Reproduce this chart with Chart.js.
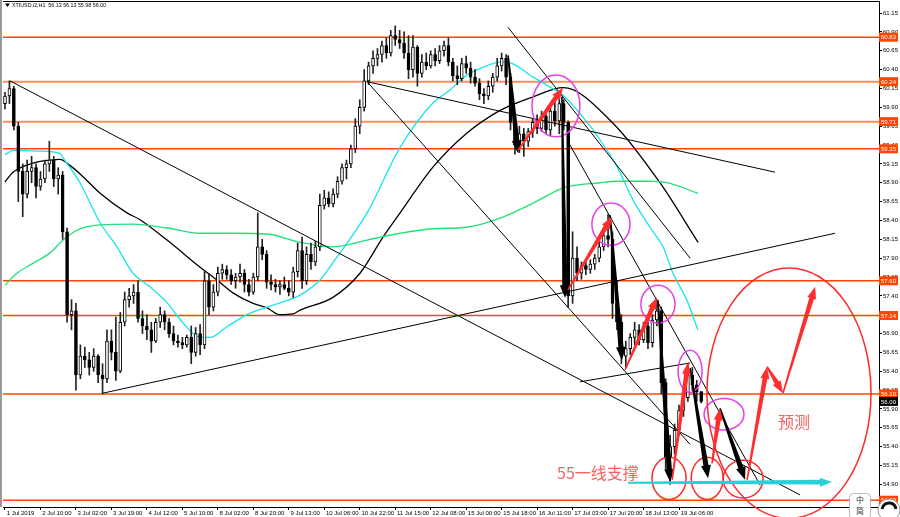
<!DOCTYPE html>
<html><head><meta charset="utf-8">
<script src="https://cdn.jsdelivr.net/npm/chart.js@4.4.1/dist/chart.umd.min.js"></script>
<style>html,body{margin:0;padding:0;background:#fff;overflow:hidden}canvas{display:block}</style>
</head><body>
<canvas id="c" width="900" height="517"></canvas>
<script>
// ---------- data ----------
const headerText = 'XTIUSD.i2,H1  56.13 56.13 55.98 56.00';
const dateLabels = ['1 Jul 2019','2 Jul 10:00','3 Jul 02:00','3 Jul 19:00','4 Jul 12:00','5 Jul 10:00','8 Jul 02:00','8 Jul 20:00','9 Jul 13:00','10 Jul 06:00','10 Jul 22:00','11 Jul 15:00','12 Jul 08:00','15 Jul 00:00','15 Jul 18:00','16 Jul 11:00','17 Jul 03:00','17 Jul 20:00','18 Jul 13:00','19 Jul 06:00'];
const hoursPerLabel = 16;
const hoursPerCandle = 2;
const priceTicks = [61.15,60.90,60.65,60.40,60.15,59.90,59.65,59.40,59.15,58.90,58.65,58.40,58.15,57.90,57.65,57.40,57.15,56.90,56.65,56.40,56.15,55.90,55.65,55.40,55.15,54.90];

const open = [
59.95,60.05,60.15,59.65,59.05,58.75,59.05,59.10,58.85,58.95,
59.15,59.20,58.95,59.00,58.25,57.15,57.20,56.35,56.60,56.55,
56.45,56.60,56.35,56.30,56.80,56.65,56.40,57.05,57.35,57.40,
57.45,57.10,57.00,56.95,56.80,57.05,57.15,57.05,56.90,56.80,
56.78,56.75,56.85,56.65,56.90,56.75,57.60,57.25,57.45,57.70,
57.75,57.68,57.60,57.65,57.70,57.55,57.45,57.65,58.05,57.95,
57.58,57.55,57.52,57.55,57.50,57.45,57.72,58.00,57.60,57.95,
57.85,58.05,58.60,58.70,58.62,58.75,58.92,59.10,59.15,59.35,
59.65,59.90,60.25,60.45,60.55,60.60,60.72,60.62,60.85,60.80,
60.75,60.62,60.40,60.70,60.35,60.50,60.45,60.60,60.52,60.65,
60.72,60.50,60.32,60.28,60.48,60.42,60.30,60.22,60.08,60.05,
60.18,60.30,60.45,60.55,60.30,59.70,59.40,59.55,59.45,59.58,
59.70,59.62,59.78,59.60,59.85,59.72,59.95,59.70,57.40,57.90,
57.70,57.80,57.75,57.82,57.90,58.05,58.20,58.15,57.30,57.05,
56.60,56.70,56.85,56.95,56.82,57.00,56.78,57.08,57.20,56.25,
55.25,55.40,55.62,55.88,56.05,56.35,56.22,56.13];
const high = [
60.10,60.25,60.18,59.70,59.15,59.20,59.25,59.15,59.05,59.20,
59.45,59.25,59.10,59.05,58.30,57.35,57.30,56.75,56.72,56.65,
56.70,56.62,56.50,56.95,56.95,57.12,57.18,57.45,57.50,57.55,
57.60,57.20,57.15,57.05,57.10,57.25,57.20,57.10,57.00,56.88,
56.85,56.88,57.00,56.98,57.02,57.72,57.70,57.55,57.78,57.82,
57.80,57.75,57.70,57.82,57.75,57.62,57.70,58.50,58.15,58.00,
57.68,57.62,57.60,57.65,57.60,57.78,58.10,58.18,58.05,58.10,
58.12,58.75,58.80,58.78,58.82,58.98,59.15,59.20,59.40,59.75,
60.00,60.40,60.50,60.65,60.68,60.78,60.82,60.92,60.98,60.92,
60.90,60.85,60.85,60.72,60.60,60.62,60.65,60.68,60.72,60.78,
60.82,60.55,60.45,60.55,60.58,60.50,60.40,60.28,60.15,60.25,
60.35,60.55,60.62,60.60,60.35,59.75,59.65,59.62,59.62,59.75,
59.80,59.85,59.82,59.95,60.05,60.10,60.00,59.72,58.25,58.05,
57.85,57.85,57.88,57.95,58.12,58.30,58.48,58.25,57.60,57.15,
56.80,56.90,57.05,57.02,57.05,57.05,57.15,57.35,57.25,56.30,
55.55,55.70,55.95,56.12,56.50,56.45,56.28,56.13];
const low = [
59.88,59.95,59.60,58.65,58.45,58.70,58.90,58.70,58.80,58.90,
59.05,58.85,58.75,58.15,57.05,56.95,56.15,56.30,56.45,56.35,
56.40,56.25,56.10,56.25,56.55,56.28,56.38,57.00,57.25,57.30,
57.05,56.90,56.82,56.65,56.78,56.98,56.95,56.85,56.75,56.72,
56.70,56.72,56.50,56.60,56.62,56.70,57.15,57.20,57.40,57.62,
57.62,57.55,57.50,57.58,57.45,57.40,57.42,57.60,57.88,57.50,
57.48,57.45,57.42,57.48,57.40,57.38,57.65,57.50,57.55,57.75,
57.80,58.00,58.55,58.58,58.58,58.70,58.88,58.95,59.10,59.30,
59.55,59.85,60.20,60.35,60.45,60.50,60.55,60.58,60.72,60.68,
60.55,60.28,60.30,60.18,60.30,60.40,60.42,60.45,60.48,60.58,
60.45,60.25,60.20,60.25,60.35,60.22,60.18,60.00,59.95,60.00,
60.10,60.25,60.38,60.20,59.60,59.28,59.30,59.25,59.38,59.50,
59.55,59.58,59.55,59.52,59.65,59.55,59.60,57.25,57.30,57.60,
57.62,57.68,57.70,57.75,57.85,58.00,58.05,57.10,56.95,56.50,
56.45,56.62,56.75,56.75,56.78,56.70,56.72,57.00,56.10,55.10,
54.90,55.30,55.55,55.80,56.00,56.15,56.00,55.98];
const close = [
60.05,60.15,59.65,59.05,58.75,59.05,59.10,58.85,58.95,59.15,
59.20,58.95,59.00,58.25,57.15,57.20,56.35,56.60,56.55,56.45,
56.60,56.35,56.30,56.80,56.65,56.40,57.05,57.35,57.40,57.45,
57.10,57.00,56.95,56.80,57.05,57.15,57.05,56.90,56.80,56.78,
56.75,56.85,56.65,56.90,56.75,57.60,57.25,57.45,57.70,57.75,
57.68,57.60,57.65,57.70,57.55,57.45,57.65,58.05,57.95,57.58,
57.55,57.52,57.55,57.50,57.45,57.72,58.00,57.60,57.95,57.85,
58.05,58.60,58.70,58.62,58.75,58.92,59.10,59.15,59.35,59.65,
59.90,60.25,60.45,60.55,60.60,60.72,60.62,60.85,60.80,60.75,
60.62,60.40,60.70,60.35,60.50,60.45,60.60,60.52,60.65,60.72,
60.50,60.32,60.28,60.48,60.42,60.30,60.22,60.08,60.05,60.18,
60.30,60.45,60.55,60.30,59.70,59.40,59.55,59.45,59.58,59.70,
59.62,59.78,59.60,59.85,59.72,59.95,59.70,57.40,57.90,57.70,
57.80,57.75,57.82,57.90,58.05,58.20,58.15,57.30,57.05,56.60,
56.70,56.85,56.95,56.82,57.00,56.78,57.08,57.20,56.25,55.25,
55.40,55.62,55.88,56.05,56.35,56.22,56.13,56.00];

// moving averages: [hour index, price]
const maCyan = [[0,59.27],[3.6,59.33],[15.8,59.32],[24.8,59.29],[26.2,59.23],[33.8,58.90],[42.9,58.37],[50.5,58.05],[57.7,57.70],[65.4,57.52],[73.1,57.31],[80.3,57.04],[88.0,56.85],[92.5,56.85],[100.1,56.99],[110.5,57.17],[118.2,57.25],[125.4,57.32],[133.1,57.41],[142.1,57.61],[147.9,57.84],[163.3,58.50],[178.2,59.37],[193.1,59.96],[200.7,60.13],[208.4,60.33],[215.6,60.43],[223.3,60.50],[227.8,60.49],[238.2,60.30],[245.8,60.17],[251.7,60.06],[260.7,59.77],[268.4,59.47],[276.1,59.11],[283.3,58.67],[290.9,58.31],[296.8,58.05],[301.3,57.70],[307.6,57.34],[312.5,56.95]];
const maBlack = [[0,58.91],[3.6,59.04],[12.6,59.16],[20.3,59.20],[24.8,59.21],[29.3,59.13],[35.2,58.98],[42.9,58.76],[55.0,58.50],[60.9,58.41],[73.1,58.14],[88.0,57.78],[95.6,57.61],[102.8,57.44],[111.9,57.30],[118.2,57.24],[124.0,57.15],[129.9,57.16],[133.1,57.21],[147.9,57.38],[160.1,57.70],[170.5,58.18],[178.2,58.50],[193.1,59.11],[208.4,59.56],[223.3,59.86],[230.9,59.96],[238.2,60.04],[251.7,60.16],[274.2,59.69],[295.4,58.90],[312.6,58.11]];
const maGreen = [[0,57.54],[5.4,57.70],[12.6,57.83],[20.3,57.97],[26.2,58.14],[32.5,58.27],[42.9,58.34],[57.7,58.35],[73.1,58.30],[88.0,58.23],[102.8,58.23],[118.2,58.22],[133.1,58.11],[147.9,58.05],[163.3,58.14],[178.2,58.23],[193.1,58.29],[208.4,58.31],[223.3,58.43],[238.2,58.63],[251.7,58.83],[268.4,58.90],[276.1,58.92],[290.9,58.92],[298.6,58.90],[312.6,58.76]];

const levels = [60.83,60.24,59.71,59.35,57.60,57.14,56.10,54.69];
const lastPrice = 56.00;

// trend lines: [hour1, price1, hour2, price2]
const trendLines = [[2.3,60.25,358.6,54.76],[44.2,56.11,374.4,58.23],[163.3,60.24,347.3,59.04],[163.3,60.24,309.0,55.43],[226.9,60.96,309.0,57.90],[253.5,59.47,340.6,54.89],[259.4,56.26,309.0,56.51]];
const blackArrows = [[226.9,60.59,231.4,59.29],[251.2,60.04,252.6,57.37],[272.9,58.47,278.3,56.55],[294.5,57.34,300.0,54.93],[309.0,56.44,317.1,54.98],[322.5,55.91,333.8,54.96]];
const redArrows = [[231.4,59.33,251.7,60.16],[253.9,57.48,273.8,58.45],[279.7,56.42,294.1,57.38],[300.9,54.96,308.1,56.52],[318.9,55.18,322.5,55.91],[334.7,54.96,343.7,56.46],[343.7,56.46,350.9,56.11],[350.9,56.11,365.4,57.52]];
const supportArrow = [281.0,54.92,373.0,54.93];
// rings: [centre hour, centre price, radius in hours, radius in price]
const magentaRings = [[248.5,59.92,10.8,0.41],[273.3,58.35,8.6,0.28],[294.5,57.29,7.7,0.25],[309.0,56.40,5.4,0.28],[324.3,55.83,9.0,0.21]];
const redRings = [[299.5,54.98,7.7,0.28],[316.7,54.98,7.2,0.28],[332.9,54.97,9.0,0.25],[353.6,56.11,37.0,1.66]];
const notes = [['55一线支撑',249.0,55.05],['预测',348.6,55.73]];

// ---------- chart ----------
const xMin = -0.9, xMax = 394.2, yMin = 54.60, yMax = 61.31;
const candleX = close.map((_, i) => i * hoursPerCandle);
const levelColors = ['#ff4500','#ff8a65','#ff8a65','#ff4500','#ff4500','#ff4500','#ff4500','#ff4500'];

const datasets = [];
levels.forEach((v, i) => datasets.push({type:'line', data:[{x:xMin,y:v},{x:xMax,y:v}], borderColor:levelColors[i], borderWidth:i===1||i===2?2:1.5, pointRadius:0, order:9}));
datasets.push({type:'line', data:maGreen.map(p=>({x:p[0],y:p[1]})), borderColor:'#22e07a', borderWidth:1.3, pointRadius:0, cubicInterpolationMode:'monotone', order:8});
datasets.push({type:'line', data:maCyan.map(p=>({x:p[0],y:p[1]})), borderColor:'#18e4ec', borderWidth:1.3, pointRadius:0, cubicInterpolationMode:'monotone', order:8});
datasets.push({type:'line', data:maBlack.map(p=>({x:p[0],y:p[1]})), borderColor:'#000', borderWidth:1.3, pointRadius:0, cubicInterpolationMode:'monotone', order:8});
datasets.push({type:'bar', data:close.map((c,i)=>({x:candleX[i], y:[low[i], high[i]]})), backgroundColor:'#222', barThickness:1, grouped:false, borderWidth:0, order:6});
datasets.push({type:'bar', data:close.map((c,i)=>({x:candleX[i], y:[Math.min(open[i],c), Math.max(open[i],c)]})), backgroundColor:close.map((c,i)=>c>=open[i]?'#fff':'#000'), borderColor:'#000', borderWidth:1, borderSkipped:false, barThickness:3, minBarLength:1, grouped:false, order:5});
trendLines.forEach(t => datasets.push({type:'line', data:[{x:t[0],y:t[1]},{x:t[2],y:t[3]}], borderColor:'#000', borderWidth:1, pointRadius:0, order:4}));

function arrow(ctx, x1, y1, x2, y2, color, w0, w1, hw, hl) {
  const dx = x2-x1, dy = y2-y1, L = Math.hypot(dx,dy);
  const ux = dx/L, uy = dy/L, nx = -uy, ny = ux;
  const h = Math.min(hl, L*0.5);
  const bx = x2-ux*h, by = y2-uy*h;
  ctx.beginPath();
  ctx.moveTo(x1+nx*w0, y1+ny*w0);
  ctx.lineTo(bx+nx*w1, by+ny*w1);
  ctx.lineTo(bx+nx*hw, by+ny*hw);
  ctx.lineTo(x2, y2);
  ctx.lineTo(bx-nx*hw, by-ny*hw);
  ctx.lineTo(bx-nx*w1, by-ny*w1);
  ctx.lineTo(x1-nx*w0, y1-ny*w0);
  ctx.closePath();
  ctx.fillStyle = color; ctx.fill();
}

const overlay = {
  id:'overlay',
  afterDatasetsDraw(chart) {
    const {ctx, scales:{x, y}} = chart;
    const X = k => x.getPixelForValue(k), Y = p => y.getPixelForValue(p);
    ctx.save();
    const ring = (r, col) => {
      const cx = X(r[0]), cy = Y(r[1]);
      const rx = X(r[0]+r[2]) - cx, ry = Y(r[1]-r[3]) - cy;
      ctx.beginPath(); ctx.ellipse(cx, cy, rx, ry, 0, 0, Math.PI*2);
      ctx.strokeStyle = col; ctx.lineWidth = 1.5; ctx.stroke();
    };
    magentaRings.forEach(r => ring(r, '#e83ee8'));
    redRings.forEach(r => ring(r, '#ff2b2b'));
    blackArrows.forEach(a => arrow(ctx, X(a[0]), Y(a[1]), X(a[2]), Y(a[3]), '#000', 0.8, 2.6, 5, 13));
    redArrows.forEach(a => arrow(ctx, X(a[0]), Y(a[1]), X(a[2]), Y(a[3]), '#ff2d2d', 0.8, 2.4, 4.5, 12));
    arrow(ctx, X(supportArrow[0]), Y(supportArrow[1]), X(supportArrow[2]), Y(supportArrow[3]), '#2ccfd6', 1, 2.4, 4.5, 12);
    ctx.font = '16px "Noto Sans CJK SC"';
    ctx.fillStyle = '#ff5c5c'; ctx.textBaseline = 'middle'; ctx.textAlign = 'left';
    notes.forEach(n => ctx.fillText(n[0], X(n[1]), Y(n[2])));
    ctx.restore();
  },
  afterDraw(chart) {
    const {ctx, chartArea:a, scales:{y}} = chart;
    ctx.save();
    ctx.fillStyle = '#9a9a9a'; ctx.fillRect(0, 0, 2, a.bottom);
    ctx.strokeStyle = '#000'; ctx.lineWidth = 1;
    ctx.beginPath(); ctx.moveTo(a.left, a.top+0.5); ctx.lineTo(a.right, a.top+0.5); ctx.stroke();
    ctx.fillStyle = '#000';
    ctx.beginPath(); ctx.moveTo(5,3.5); ctx.lineTo(10,3.5); ctx.lineTo(7.5,7); ctx.closePath(); ctx.fill();
    ctx.font = '6px "Liberation Sans"'; ctx.textBaseline = 'middle'; ctx.textAlign = 'left';
    ctx.fillText(headerText, 12, 5.5, 94);
    const box = (v, bg) => {
      const py = y.getPixelForValue(v);
      if (py > a.bottom + 2) return;
      ctx.fillStyle = bg; ctx.fillRect(a.right, py-4.5, 19, 9);
      ctx.fillStyle = '#fff'; ctx.fillText(v.toFixed(2), a.right+2, py+0.5, 16);
    };
    levels.forEach(v => box(v, '#ff4500'));
    box(lastPrice, '#000');
    ctx.fillStyle = '#fff'; ctx.strokeStyle = '#bbb';
    ctx.beginPath(); ctx.roundRect(849.5, 493.5, 21, 26, 4); ctx.fill(); ctx.stroke();
    ctx.fillStyle = '#333'; ctx.font = '8px "Noto Sans CJK SC"'; ctx.textAlign = 'center';
    ctx.fillText('中', 860, 500); ctx.fillText('简', 860, 511);
    ctx.beginPath(); ctx.arc(889, 510, 11, 0, Math.PI*2); ctx.fillStyle = '#fff'; ctx.fill(); ctx.strokeStyle = '#999'; ctx.stroke();
    ctx.beginPath(); ctx.arc(889, 510, 7, Math.PI*1.05, Math.PI*1.95); ctx.lineWidth = 3; ctx.strokeStyle = '#111'; ctx.stroke();
    ctx.restore();
  }
};

new Chart(document.getElementById('c'), {
  type:'bar',
  data:{datasets},
  options:{
    responsive:false, animation:false, events:[],
    layout:{padding:{left:3, top:1, right:0, bottom:0}},
    plugins:{legend:{display:false}, tooltip:{enabled:false}},
    scales:{
      x:{type:'linear', min:xMin, max:xMax, offset:false,
        grid:{drawOnChartArea:false, offset:false, tickLength:3, color:'#000'},
        border:{display:true, color:'#000'},
        ticks:{autoSkip:false, maxRotation:0, minRotation:0, align:'start', padding:0, color:'#000', font:{size:6, family:'Liberation Sans'},
          callback:(v, i) => ' ' + dateLabels[i]},
        afterBuildTicks:s => { s.ticks = dateLabels.map((_, i) => ({value: i*hoursPerLabel})); },
        afterFit:s => { s.height = 10; s.paddingLeft = 0; s.paddingRight = 0; }
      },
      y:{position:'right', min:yMin, max:yMax,
        grid:{drawOnChartArea:false, tickLength:3, color:'#000'},
        border:{display:true, color:'#000'},
        ticks:{autoSkip:false, padding:1, color:'#000', font:{size:6, family:'Liberation Sans'}, callback:v => v.toFixed(2)},
        afterBuildTicks:s => { s.ticks = priceTicks.map(v => ({value:v})); },
        afterFit:s => { s.width = 21; s.paddingTop = 0; s.paddingBottom = 0; }
      }
    }
  },
  plugins:[overlay]
});
</script>
</body></html>
